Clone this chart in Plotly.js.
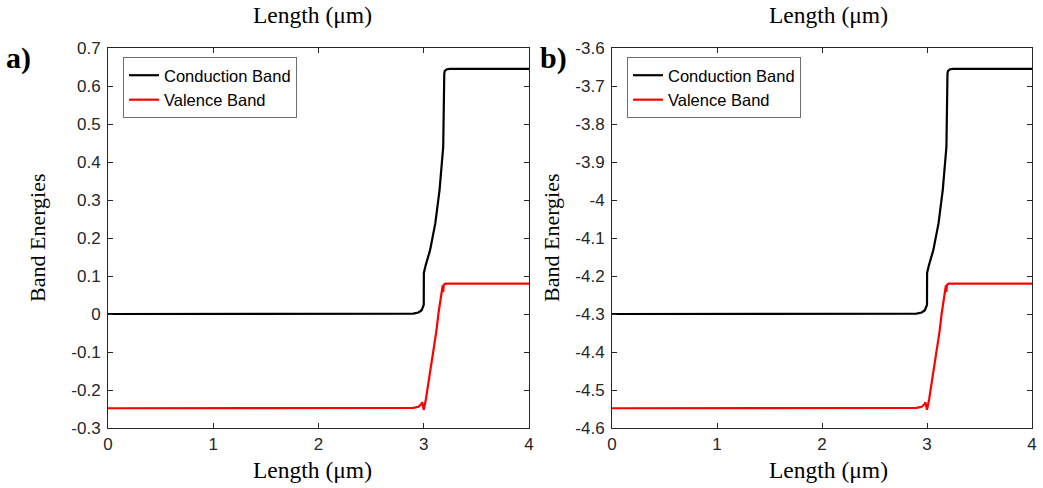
<!DOCTYPE html>
<html>
<head>
<meta charset="utf-8">
<script src="https://cdn.plot.ly/plotly-3.0.1.min.js"></script>
<style>html,body{margin:0;padding:0;background:#fff;}#chart{width:1043px;height:488px;}</style>
</head>
<body>
<div id="chart"></div>
<script>
// ---- data ----
const xCB = [0, 2.8, 2.9, 2.95, 2.98, 3.0, 3.001, 3.02, 3.06, 3.11, 3.15, 3.185, 3.19, 3.195, 3.2, 3.22, 3.25, 4];
const cbA = [0, 0, 0.001, 0.004, 0.01, 0.024, 0.108, 0.13, 0.168, 0.239, 0.326, 0.44, 0.60, 0.632, 0.64, 0.644, 0.645, 0.645];
const cbB = [-4.3, -4.3, -4.299, -4.296, -4.29, -4.276, -4.192, -4.17, -4.132, -4.061, -3.974, -3.86, -3.70, -3.668, -3.66, -3.656, -3.655, -3.655];

const xVB = [0, 2.8, 2.9, 2.95, 2.975, 2.985, 2.995, 3.0, 3.02, 3.045, 3.07, 3.094, 3.12, 3.14, 3.16, 3.175, 3.18, 3.185, 3.19, 3.2, 3.21, 4];
const vbA = [-0.248, -0.248, -0.247, -0.244, -0.238, -0.232, -0.246, -0.252, -0.225, -0.182, -0.14, -0.095, -0.045, 0.002, 0.045, 0.068, 0.075, 0.058, 0.077, 0.079, 0.08, 0.08];
const vbB = [-4.548, -4.548, -4.547, -4.544, -4.538, -4.532, -4.546, -4.552, -4.525, -4.482, -4.44, -4.395, -4.345, -4.298, -4.255, -4.232, -4.225, -4.242, -4.223, -4.221, -4.22, -4.22];

const yTicksA = [-0.3, -0.2, -0.1, 0, 0.1, 0.2, 0.3, 0.4, 0.5, 0.6, 0.7];
const yTickTextA = ['-0.3', '-0.2', '-0.1', '0', '0.1', '0.2', '0.3', '0.4', '0.5', '0.6', '0.7'];
const yTicksB = [-4.6, -4.5, -4.4, -4.3, -4.2, -4.1, -4.0, -3.9, -3.8, -3.7, -3.6];
const yTickTextB = ['-4.6', '-4.5', '-4.4', '-4.3', '-4.2', '-4.1', '-4', '-3.9', '-3.8', '-3.7', '-3.6'];
const xTicks = [0, 1, 2, 3, 4];
const xTickText = ['0', '1', '2', '3', '4'];

const seriesNames = ['Conduction Band', 'Valence Band'];
const xTitle = 'Length (\u03bcm)';
const yTitle = 'Band Energies';
const panelLabels = ['a)', 'b)'];

// ---- layout helpers ----
const W = 1043, H = 488;
const px = v => v / W;
const py = v => (H - v) / H;

const ink = '#262626';
const tickFont = {family: 'Liberation Sans, Arial, sans-serif', size: 17, color: ink};
const serif = 'Liberation Serif, Times New Roman, serif';

function xAxis(domain, anchor) {
  return {
    domain: domain, anchor: anchor, range: [0, 4],
    tickvals: xTicks, ticktext: xTickText,
    ticks: 'inside', ticklen: 5, tickwidth: 1, tickcolor: ink,
    showline: true, linecolor: ink, linewidth: 1, mirror: 'ticks',
    showgrid: false, zeroline: false, tickfont: tickFont,
    ticklabelstandoff: 1,
    automargin: false, fixedrange: true
  };
}
function yAxis(domain, anchor, range, vals, text) {
  return {
    domain: domain, anchor: anchor, range: range,
    tickvals: vals, ticktext: text,
    ticks: 'inside', ticklen: 5, tickwidth: 1, tickcolor: ink,
    showline: true, linecolor: ink, linewidth: 1, mirror: 'ticks',
    showgrid: false, zeroline: false, tickfont: tickFont,
    ticklabelstandoff: 3,
    automargin: false, fixedrange: true
  };
}

const yDom = [py(428), py(48)];
const traces = [
  {x: xCB, y: cbA, name: seriesNames[0], mode: 'lines', line: {color: '#000000', width: 2.2}, xaxis: 'x', yaxis: 'y', legend: 'legend'},
  {x: xVB, y: vbA, name: seriesNames[1], mode: 'lines', line: {color: '#ff0000', width: 2.2}, xaxis: 'x', yaxis: 'y', legend: 'legend'},
  {x: xCB, y: cbB, name: seriesNames[0], mode: 'lines', line: {color: '#000000', width: 2.2}, xaxis: 'x2', yaxis: 'y2', legend: 'legend2'},
  {x: xVB, y: vbB, name: seriesNames[1], mode: 'lines', line: {color: '#ff0000', width: 2.2}, xaxis: 'x2', yaxis: 'y2', legend: 'legend2'}
];

function legendAt(xp, yp) {
  return {
    x: px(xp), y: py(yp), xanchor: 'left', yanchor: 'top',
    bgcolor: '#ffffff', bordercolor: '#6e6e6e', borderwidth: 1,
    font: {family: 'Liberation Sans, Arial, sans-serif', size: 16.5, color: '#000'},
    itemwidth: 30, tracegroupgap: 0
  };
}

function ann(text, xp, yp, size, extra) {
  return Object.assign({
    text: text, x: px(xp), y: py(yp), xref: 'paper', yref: 'paper',
    xanchor: 'center', yanchor: 'middle', showarrow: false,
    font: {family: serif, size: size, color: '#000'}
  }, extra || {});
}

const layout = {
  width: W, height: H,
  margin: {l: 0, r: 0, t: 0, b: 0},
  paper_bgcolor: '#ffffff', plot_bgcolor: '#ffffff',
  showlegend: true,
  xaxis: xAxis([px(108), px(529)], 'y'),
  yaxis: yAxis(yDom, 'x', [-0.3, 0.7], yTicksA, yTickTextA),
  xaxis2: xAxis([px(612), px(1032)], 'y2'),
  yaxis2: yAxis(yDom, 'x2', [-4.6, -3.6], yTicksB, yTickTextB),
  legend: legendAt(123, 57),
  legend2: legendAt(627, 57),
  annotations: [
    ann(xTitle, 312, 15, 23.5),
    ann(xTitle, 828, 15, 23.5),
    ann(xTitle, 312, 470, 23.5),
    ann(xTitle, 828, 470, 23.5),
    ann(yTitle, 37, 238, 22, {textangle: -90}),
    ann(yTitle, 551, 238, 22, {textangle: -90}),
    ann('<b>' + panelLabels[0] + '</b>', 18, 58, 30),
    ann('<b>' + panelLabels[1] + '</b>', 553, 58, 30)
  ]
};

Plotly.newPlot('chart', traces, layout, {displayModeBar: false, staticPlot: true});
</script>
</body>
</html>
